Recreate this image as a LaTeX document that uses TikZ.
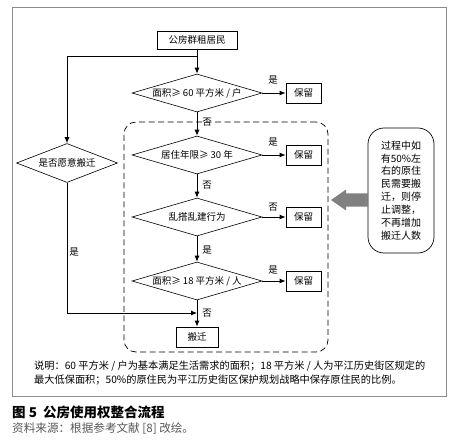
\documentclass[tikz,border=0pt]{standalone}
\usepackage{fontspec}
\setmainfont{Noto Sans CJK SC}
\usetikzlibrary{arrows.meta,shapes.geometric}
\begin{document}
\begin{tikzpicture}[x=1pt,y=-1pt,
  txt/.style={font=\fontsize{9.5}{11}\selectfont},
  box/.style={draw,line width=0.8pt,minimum width=#1,minimum height=20pt,inner sep=0pt,txt},
  dia/.style n args={2}{draw,diamond,line width=0.6pt,minimum width=#1,minimum height=#2,inner sep=0pt,txt},
  arr/.style={-{Latex[length=6pt,width=5pt]},line width=0.8pt},
  lab/.style={txt,inner sep=0pt}]
\useasboundingbox (0,0) rectangle (456,444);
\fill[white] (0,0) rectangle (456,444);
\draw[black!45,line width=1pt] (12,8) rectangle (446,396);

\node[box=80pt,minimum height=18pt] (top) at (197,40) {公房群租居民};
\node[dia={130pt}{38pt}] (d1) at (197,93) {\makebox[0pt]{面积≥ 60 平方米 / 户}};
\node[dia={130pt}{38pt}] (d2) at (197,155) {\makebox[0pt]{居住年限≥ 30 年}};
\node[dia={130pt}{38pt}] (d3) at (197,217) {\makebox[0pt]{乱搭乱建行为}};
\node[dia={130pt}{38pt}] (d4) at (197,281) {\makebox[0pt]{面积≥ 18 平方米 / 人}};
\node[dia={101pt}{39pt}] (dl) at (67,163) {\makebox[0pt]{是否愿意搬迁}};
\node[box=35pt] (k1) at (303.5,93) {保留};
\node[box=35pt] (k2) at (303.5,155) {保留};
\node[box=35pt] (k3) at (303.5,217) {保留};
\node[box=35pt] (k4) at (303.5,281) {保留};
\node[box=42pt] (ban) at (197,337) {搬迁};

\node[draw,dash pattern=on 6pt off 3.5pt,line width=0.7pt,rounded corners=12pt,minimum width=204pt,minimum height=230pt] (grp) at (226,237) {};
\node[draw,line width=0.7pt,rounded corners=16pt,minimum width=66pt,minimum height=125pt,align=center,font=\fontsize{10}{12.86}\selectfont] (note) at (401,190.5) {过程中如\\有50\%左\\右的原住\\民需要搬\\迁，则停\\止调整，\\不再增加\\搬迁人数};
\fill[black!50] (368,193.5) -- (346,193.5) -- (346,189.5) -- (331,200) -- (346,210.5) -- (346,206.5) -- (368,206.5) -- cycle;

\coordinate (br) at (197,56);
\coordinate (jn) at (197,313);
\draw[arr] (top) -- (d1);
\draw[arr] (br) -| (dl.north);
\draw[arr] (d1) -- (d2);
\draw[arr] (d2) -- (d3);
\draw[arr] (d3) -- (d4);
\draw[arr] (d4) -- (ban);
\draw[arr] (dl.south) |- (jn);
\draw[arr] (d1.east) -- (k1);
\draw[arr] (d2.east) -- (k2);
\draw[arr] (d3.east) -- (k3);
\draw[arr] (d4.east) -- (k4);

\node[lab] (l1) at (273,80) {是};
\node[lab] (l2) at (207,122) {否};
\node[lab] (l3) at (273,142) {是};
\node[lab] (l4) at (207,185) {否};
\node[lab] (l5) at (273,207) {否};
\node[lab] (l6) at (207,250) {是};
\node[lab] (l7) at (273,270) {是};
\node[lab] (l8) at (207,313) {否};
\node[lab] (l9) at (74,252) {是};

\node[anchor=west,inner sep=0pt,font=\fontsize{10.2}{11}\selectfont] (n1) at (34,366) {说明：60 平方米 / 户为基本满足生活需求的面积；18 平方米 / 人为平江历史街区规定的};
\node[anchor=west,inner sep=0pt,font=\fontsize{10.2}{11}\selectfont] (n2) at (34,380) {最大低保面积；50\%的原住民为平江历史街区保护规划战略中保存原住民的比例。};
\node[anchor=west,inner sep=0pt,font=\bfseries\fontsize{13.5}{15}\selectfont] (cap) at (12,412) {图 5\ \ 公房使用权整合流程};
\node[anchor=west,inner sep=0pt,text=black!65,font=\fontsize{11.6}{13}\selectfont] (src) at (12,429) {资料来源：根据参考文献 [8] 改绘。};
\end{tikzpicture}
\end{document}
